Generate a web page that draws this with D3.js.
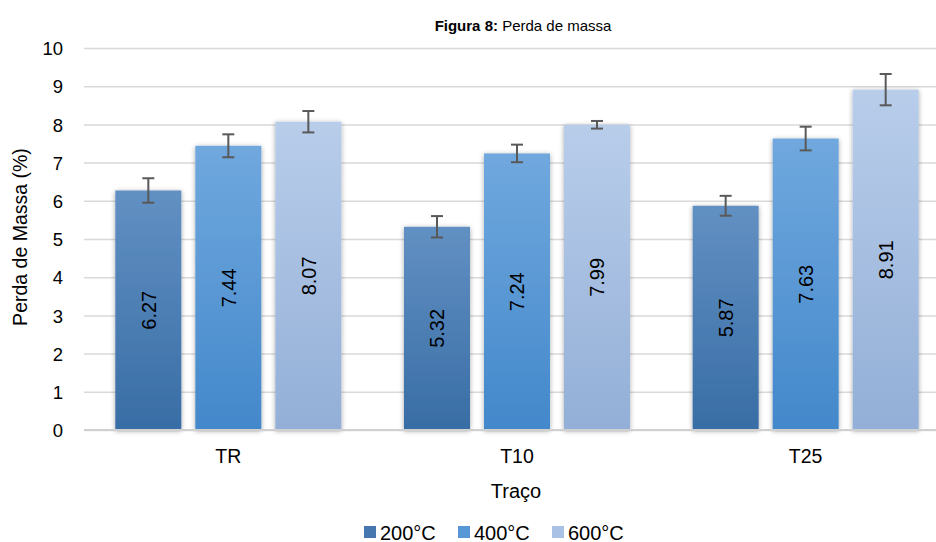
<!DOCTYPE html>
<html>
<head>
<meta charset="utf-8">
<script src="https://cdn.jsdelivr.net/npm/d3@7"></script>
<style>
  body { margin: 0; background: #fff; }
  svg { display: block; font-family: "Liberation Sans", Arial, sans-serif; }
</style>
</head>
<body>
<div id="chart"></div>
<script>
// data
const categories = ["TR", "T10", "T25"]
const series = ["200°C", "400°C", "600°C"]
const values = [
    [6.27, 7.44, 8.07],
    [5.32, 7.24, 7.99],
    [5.87, 7.63, 8.91]
]
const errors = [
    [0.32, 0.30, 0.28],
    [0.28, 0.23, 0.10],
    [0.26, 0.31, 0.41]
]
const y_ticks = [0, 1, 2, 3, 4, 5, 6, 7, 8, 9, 10]

// colours (top / bottom of the gradient, legend swatch)
const col_top = ["#6290c3", "#70a8de", "#b8cdea"]
const col_bottom = ["#386da5", "#4388cb", "#93afd7"]
const col_legend = ["#4677ae", "#5797d6", "#a8c1e4"]

const width = 936, height = 542
const plot = { left: 84, right: 950, top: 48, bottom: 430 }

const svg = d3.select("#chart").append("svg")
    .attr("width", width)
    .attr("height", height)

const defs = svg.append("defs")
series.forEach((s, i) => {
    const g = defs.append("linearGradient")
        .attr("id", "grad" + i)
        .attr("x1", 0).attr("y1", 0).attr("x2", 0).attr("y2", 1)
    g.append("stop").attr("offset", "0%").attr("stop-color", col_top[i])
    g.append("stop").attr("offset", "100%").attr("stop-color", col_bottom[i])
})
defs.append("filter")
    .attr("id", "shadow")
    .attr("x", "-20%").attr("y", "-5%").attr("width", "140%").attr("height", "110%")
    .append("feDropShadow")
        .attr("dx", 0).attr("dy", 1)
        .attr("stdDeviation", 2.5)
        .attr("flood-color", "#000")
        .attr("flood-opacity", 0.35)

// scales
const x0 = d3.scaleBand()
    .domain(categories)
    .range([plot.left, plot.right])
    .paddingInner(0.217)
    .paddingOuter(0.1085)
const x1 = d3.scaleBand()
    .domain(series)
    .range([0, x0.bandwidth()])
    .paddingInner(0.175)
const y = d3.scaleLinear()
    .domain([0, 10])
    .range([plot.bottom, plot.top])

// grid + y axis
const y_axis = svg.append("g")
    .attr("transform", `translate(${plot.left},0)`)
    .call(d3.axisLeft(y)
        .tickValues(y_ticks)
        .tickSize(-(plot.right - plot.left))
        .tickPadding(21))
y_axis.select(".domain").remove()
y_axis.selectAll(".tick line")
    .attr("stroke", "#d9d9d9")
    .attr("stroke-width", 1.5)
y_axis.selectAll(".tick text")
    .attr("fill", "#000")
    .style("font-size", "18.5px")
    .attr("dy", "0.36em")

// bars
const groups = svg.selectAll("g.group")
    .data(categories)
    .join("g")
        .attr("class", "group")
        .attr("transform", d => `translate(${x0(d)},0)`)

groups.selectAll("rect")
    .data((d, ci) => series.map((s, si) => ({ s, si, v: values[ci][si], e: errors[ci][si] })))
    .join("rect")
        .attr("x", d => x1(d.s))
        .attr("y", d => y(d.v))
        .attr("width", x1.bandwidth())
        .attr("height", d => y(0) - y(d.v))
        .attr("fill", d => `url(#grad${d.si})`)
        .attr("filter", "url(#shadow)")

// baseline
svg.append("line")
    .attr("x1", plot.left).attr("x2", plot.right)
    .attr("y1", y(0)).attr("y2", y(0))
    .attr("stroke", "#d0d0d0")
    .attr("stroke-width", 2)

// error bars
const err = groups.selectAll("g.err")
    .data((d, ci) => series.map((s, si) => ({ s, v: values[ci][si], e: errors[ci][si] })))
    .join("g")
        .attr("class", "err")
        .attr("transform", d => `translate(${x1(d.s) + x1.bandwidth() / 2},0)`)
err.append("line")
    .attr("y1", d => y(d.v + d.e)).attr("y2", d => y(d.v - d.e))
err.append("line")
    .attr("x1", -6).attr("x2", 6)
    .attr("y1", d => y(d.v + d.e)).attr("y2", d => y(d.v + d.e))
err.append("line")
    .attr("x1", -6).attr("x2", 6)
    .attr("y1", d => y(d.v - d.e)).attr("y2", d => y(d.v - d.e))
err.selectAll("line")
    .attr("stroke", "#595959")
    .attr("stroke-width", 2)

// value labels
groups.selectAll("text.val")
    .data((d, ci) => series.map((s, si) => ({ s, v: values[ci][si] })))
    .join("text")
        .attr("class", "val")
        .attr("transform", d => `translate(${x1(d.s) + x1.bandwidth() / 2},${(y(d.v) + y(0)) / 2}) rotate(-90)`)
        .attr("text-anchor", "middle")
        .attr("dy", "0.36em")
        .style("font-size", "20px")
        .attr("fill", "#000")
        .text(d => d.v.toFixed(2))

// category labels
svg.selectAll("text.cat")
    .data(categories)
    .join("text")
        .attr("class", "cat")
        .attr("x", d => x0(d) + x0.bandwidth() / 2)
        .attr("y", 463)
        .attr("text-anchor", "middle")
        .style("font-size", "19.5px")
        .text(d => d)

// axis titles
svg.append("text")
    .attr("x", 516)
    .attr("y", 498)
    .attr("text-anchor", "middle")
    .style("font-size", "20px")
    .text("Traço")

svg.append("text")
    .attr("transform", `translate(27,237) rotate(-90)`)
    .attr("text-anchor", "middle")
    .style("font-size", "19.5px")
    .text("Perda de Massa (%)")

// title
const title = svg.append("text")
    .attr("x", 523)
    .attr("y", 31)
    .attr("text-anchor", "middle")
    .style("font-size", "15px")
title.append("tspan").attr("font-weight", "bold").text("Figura 8: ")
title.append("tspan").text("Perda de massa")

// legend
const legend_x = [364, 458, 552]
const legend = svg.selectAll("g.leg")
    .data(series)
    .join("g")
        .attr("class", "leg")
        .attr("transform", (d, i) => `translate(${legend_x[i]},526)`)
legend.append("rect")
    .attr("x", 0).attr("y", 0)
    .attr("width", 12).attr("height", 12)
    .attr("fill", (d, i) => col_legend[i])
legend.append("text")
    .attr("x", 16)
    .attr("y", 13.5)
    .style("font-size", "20px")
    .text(d => d)
</script>
</body>
</html>
